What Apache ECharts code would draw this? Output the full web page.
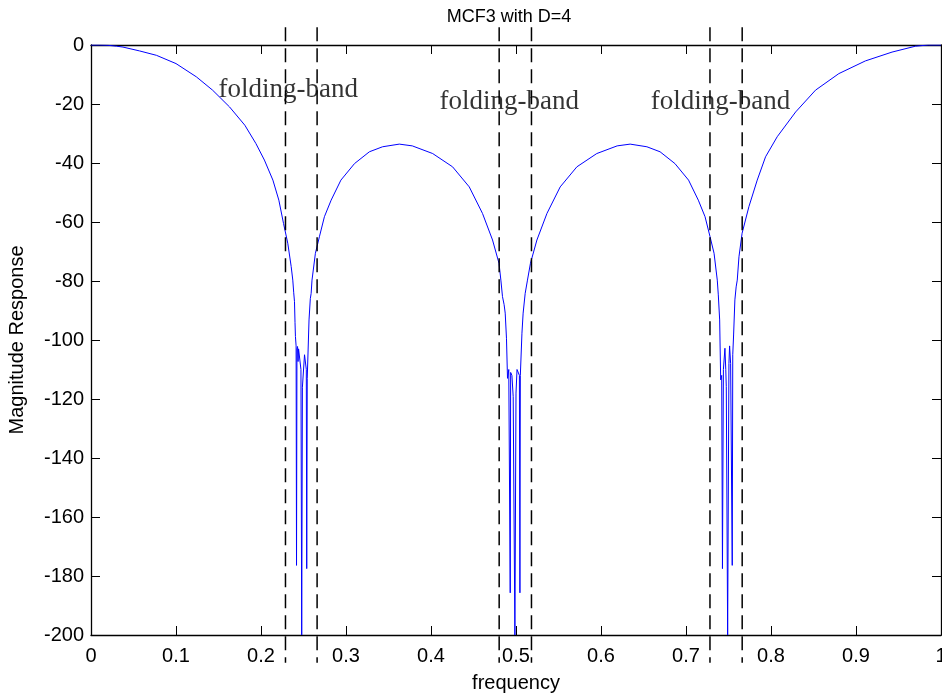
<!DOCTYPE html>
<html>
<head>
<meta charset="utf-8">
<title>MCF3 with D=4</title>
<script src="https://cdn.jsdelivr.net/npm/echarts@6/dist/echarts.min.js"></script>
<style>
  html, body { margin: 0; padding: 0; background: #fff; }
  #chart { width: 942px; height: 695px; }
</style>
</head>
<body>
<div id="chart"></div>
<script>
// Magnitude response of MCF3 (D = 4), [normalised frequency, dB] pairs per segment
const mainLobeLeft = [
  [0, 0], [0.010, 0], [0.020, -0.1], [0.030, -0.4], [0.0376, -0.7], [0.057, -2.0],
  [0.077, -3.5], [0.100, -6.3], [0.124, -10.8], [0.143, -15.3], [0.163, -21.0],
  [0.181, -27.2], [0.194, -33.4], [0.204, -39.0], [0.214, -45.8], [0.221, -52.6],
  [0.2265, -60.5], [0.2315, -67.2], [0.2355, -75.1]
];
const null1 = [
  [0.2374, -79.7], [0.2385, -84.0], [0.2394, -87.0], [0.2400, -94.0], [0.2405, -98.8],
  [0.2413, -102.0], [0.2418, -176.4], [0.2423, -103.0], [0.2430, -102.2], [0.2436, -107.3],
  [0.2442, -103.0], [0.2455, -102.8], [0.2470, -110.0], [0.2479, -200], [0.2487, -116.0],
  [0.2500, -115.8], [0.2512, -105.0], [0.2525, -104.6], [0.2533, -110.0], [0.2538, -177.5],
  [0.2544, -113.0], [0.2552, -113.0], [0.2565, -93.2], [0.2580, -86.0], [0.2590, -84.2],
  [0.2600, -79.7]
];
const sideLobe1 = [
  [0.2640, -70.6], [0.2687, -65.0], [0.2746, -58.2], [0.2825, -52.6], [0.2940, -45.8],
  [0.3100, -40.2], [0.3275, -36.2], [0.3430, -34.5], [0.3627, -33.6], [0.3780, -34.2],
  [0.4020, -36.8], [0.4254, -41.3], [0.4450, -48.1], [0.4606, -57.1], [0.4724, -66.1],
  [0.4800, -74.0]
];
const null2 = [
  [0.4822, -79.7], [0.4841, -85.3], [0.4860, -88.0], [0.4873, -90.9], [0.4888, -99.4],
  [0.4900, -113.0], [0.4915, -110.0], [0.4928, -110.5], [0.4932, -185.7], [0.4937, -111.0],
  [0.4952, -112.0], [0.4967, -119.2], [0.4987, -200], [0.5000, -118.0], [0.5012, -110.0],
  [0.5030, -110.5], [0.5040, -112.0], [0.5046, -185.7], [0.5051, -112.0], [0.5057, -112.4],
  [0.5070, -97.7], [0.5084, -90.9], [0.5108, -84.2], [0.5135, -79.7]
];
const sideLobe2 = [
  [0.5170, -74.0], [0.5246, -66.1], [0.5364, -57.1], [0.5520, -48.1], [0.5716, -41.3],
  [0.5950, -36.8], [0.6190, -34.2], [0.6343, -33.6], [0.6540, -34.5], [0.6695, -36.2],
  [0.6870, -40.2], [0.7030, -45.8], [0.7145, -52.6], [0.7224, -58.2], [0.7283, -65.0],
  [0.7330, -70.6]
];
const null3 = [
  [0.7368, -79.7], [0.7380, -84.7], [0.7396, -93.2], [0.7408, -113.5], [0.7420, -112.0],
  [0.7429, -177.5], [0.7440, -110.0], [0.7458, -102.8], [0.7468, -110.0], [0.7474, -115.8],
  [0.7490, -200], [0.7505, -108.0], [0.7513, -102.0], [0.7525, -108.0], [0.7544, -176.4],
  [0.7550, -105.0], [0.7560, -98.3], [0.7575, -86.4], [0.7590, -82.0], [0.7603, -79.7]
];
const mainLobeRight = [
  [0.7623, -71.8], [0.7660, -63.8], [0.7740, -54.8], [0.7838, -45.8], [0.7936, -37.9],
  [0.8073, -31.1], [0.8290, -22.7], [0.8524, -15.3], [0.8798, -9.7], [0.9110, -5.4],
  [0.9424, -2.4], [0.9700, -0.4], [0.9850, 0], [1.0, 0]
];

// folding-band edges (dashed verticals) and their vertical extent in dB
const bandEdges = [0.2288, 0.2660, 0.4802, 0.5182, 0.7282, 0.7661];
const bandSpan = [6, -209.4];

// band annotations: left edge of the text and its dB position
const bandLabelText = ['folding-band', 'folding-band', 'folding-band'];
const bandLabelX = [0.150, 0.410, 0.6585];
const bandLabelY = [-15.1, -19.2, -19.2];

// axis ranges and ticks
const freqRange = [0, 1, 0.1];
const dbRange = [-200, 0, 20];

const response = [].concat(mainLobeLeft, null1, sideLobe1, null2, sideLobe2, null3, mainLobeRight);

const sans = '"Liberation Sans", Arial, Helvetica, sans-serif';
const serif = '"Liberation Serif", "Times New Roman", Times, serif';
const ink = '#000';

function frame(position, withLabels, extra) {
  return Object.assign({
    type: 'value',
    position: position,
    axisLine: { show: true, onZero: false, lineStyle: { color: ink, width: 1.3 } },
    axisTick: { show: true, inside: true, length: 9, lineStyle: { color: ink, width: 1 } },
    axisLabel: { show: withLabels, color: ink, fontFamily: sans, fontSize: 20, showMinLabel: true, showMaxLabel: true },
    splitLine: { show: false }
  }, extra);
}

const xAxes = [
  frame('bottom', true, {
    min: freqRange[0], max: freqRange[1], interval: freqRange[2],
    name: 'frequency', nameLocation: 'middle', nameGap: 38,
    nameTextStyle: { color: ink, fontFamily: sans, fontSize: 20 }
  }),
  frame('top', false, { min: freqRange[0], max: freqRange[1], interval: freqRange[2] })
];
xAxes[0].axisLabel.margin = 11;

const yAxes = [
  frame('left', true, {
    min: dbRange[0], max: dbRange[1], interval: dbRange[2],
    name: 'Magnitude Response', nameLocation: 'middle', nameGap: 64, nameRotate: 90,
    nameTextStyle: { color: ink, fontFamily: sans, fontSize: 20 }
  }),
  frame('right', false, { min: dbRange[0], max: dbRange[1], interval: dbRange[2] })
];
yAxes[0].axisLabel.margin = 7;

const series = [{
  type: 'line',
  name: 'MCF3',
  data: response,
  showSymbol: false,
  symbol: 'none',
  silent: true,
  animation: false,
  lineStyle: { color: '#0000ff', width: 1 }
}];

bandEdges.forEach(function (f) {
  series.push({
    type: 'line',
    data: [[f, bandSpan[0]], [f, bandSpan[1]]],
    clip: false,
    showSymbol: false,
    symbol: 'none',
    silent: true,
    animation: false,
    lineStyle: { color: ink, width: 1.5, type: [14, 7] }
  });
});

series.push({
  type: 'scatter',
  data: bandLabelX.map(function (x, i) {
    return { value: [x, bandLabelY[i]], name: bandLabelText[i] };
  }),
  symbolSize: 0,
  silent: true,
  animation: false,
  label: {
    show: true,
    position: 'right',
    distance: 0,
    formatter: function (p) { return p.name; },
    color: ink,
    fontFamily: serif,
    fontSize: 27
  }
});

const chart = echarts.init(document.getElementById('chart'), null, { renderer: 'canvas' });
chart.setOption({
  animation: false,
  backgroundColor: '#fff',
  title: {
    text: 'MCF3 with D=4',
    left: 504,
    top: 3,
    textAlign: 'center',
    textStyle: { color: ink, fontFamily: sans, fontSize: 18, fontWeight: 'normal' }
  },
  grid: { left: 91, right: 1, top: 45, bottom: 60, containLabel: false, outerBoundsMode: 'none' },
  xAxis: xAxes,
  yAxis: yAxes,
  series: series
});
</script>
</body>
</html>
